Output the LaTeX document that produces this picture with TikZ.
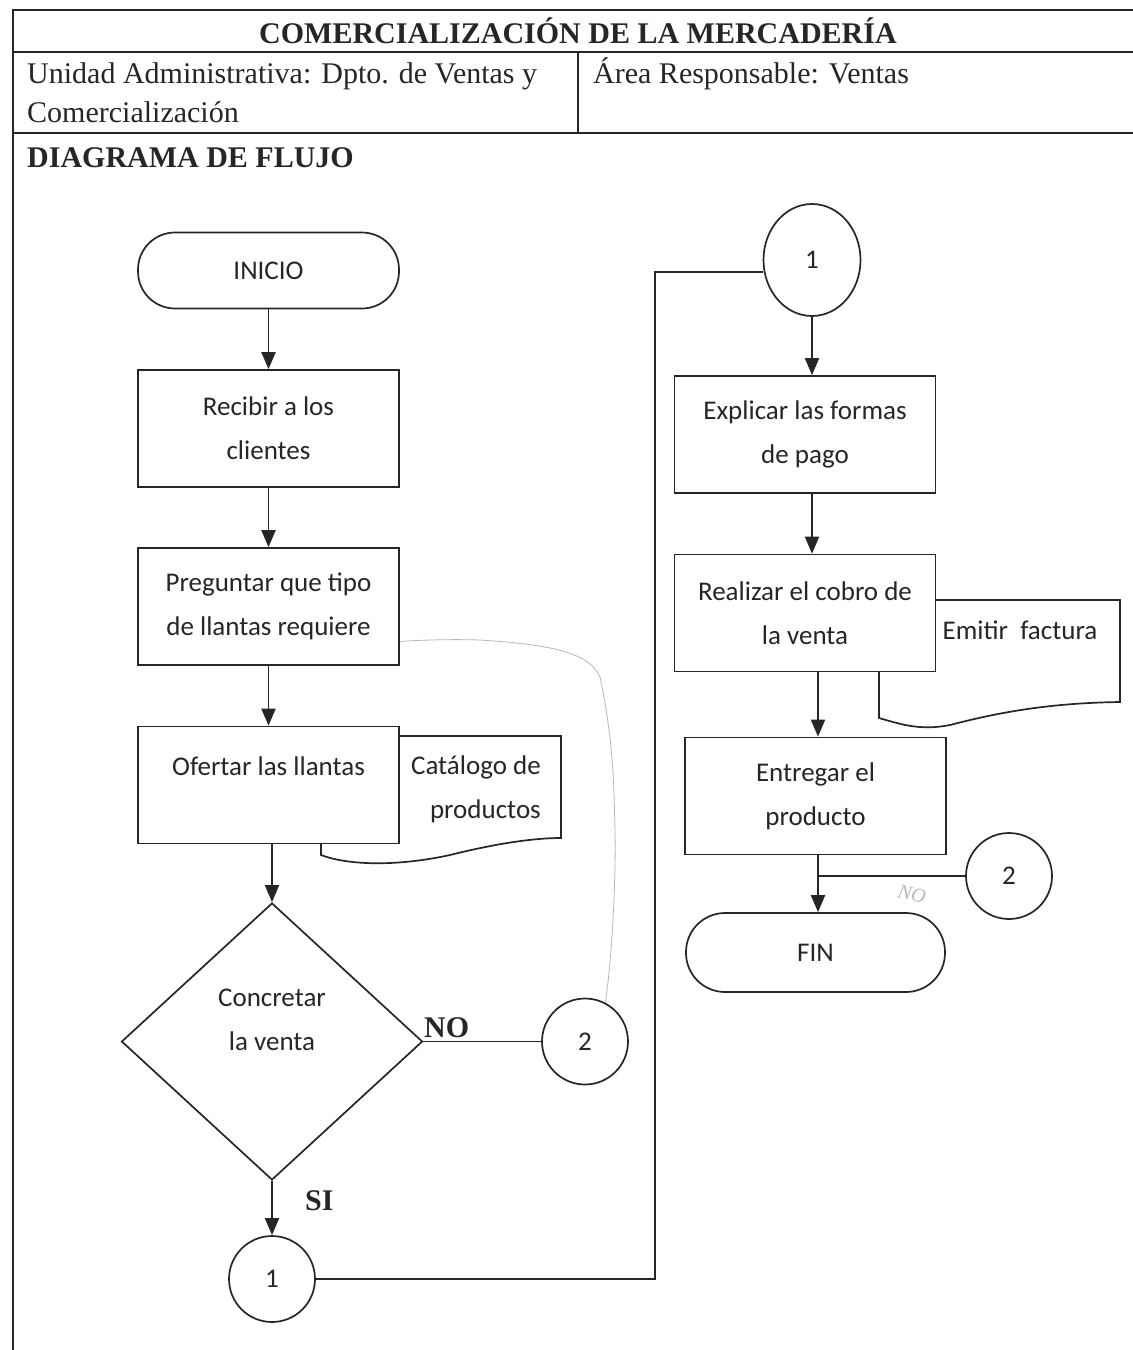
\documentclass[tikz,border=0pt]{standalone}
\usepackage{fontspec}
\setmainfont{Liberation Serif}
\newfontfamily\calib{Carlito}
\usetikzlibrary{shapes.geometric,arrows.meta}
\definecolor{ink}{HTML}{262626}
\definecolor{pencil}{HTML}{B8B8B8}
\begin{document}
\begin{tikzpicture}[x=1pt,y=-1pt,
  frame/.style={draw=ink,line width=2.8pt},
  thinframe/.style={draw=ink,line width=1.6pt},
  hdr/.style={font=\fontsize{30}{40}\selectfont,text=ink,inner sep=0pt,anchor=base west,align=left},
  hdrb/.style={font=\bfseries\fontsize{30}{40}\selectfont,text=ink,inner sep=0pt},
  fc/.style={font=\calib\fontsize{27}{44}\selectfont,text=ink},
  box/.style={fc,draw=ink,line width=1.7pt,fill=white,minimum width=261pt,minimum height=117pt,align=center,inner sep=0pt},
  term/.style={fc,draw=ink,line width=1.7pt,fill=white,minimum width=261pt,minimum height=76pt,rounded corners=37pt,inner sep=0pt},
  conn/.style={fc,draw=ink,line width=1.7pt,fill=white,circle,minimum size=86pt,inner sep=0pt},
  doc/.style={draw=ink,line width=1.7pt,fill=white},
  line/.style={draw=ink,line width=1.9pt},
  arr/.style={line,-{Triangle[width=14pt,length=17pt]}},
  lbl/.style={font=\bfseries\fontsize{30}{36}\selectfont,text=ink,inner sep=0pt},
]
\useasboundingbox[fill=white] (0,0) rectangle (1133,1350);

% ---- header frame ----
\draw[frame] (1133,10) -- (13,10) -- (13,1350);
\draw[frame] (13,52) -- (1133,52);
\draw[frame] (13,133) -- (1133,133);
\draw[thinframe] (578,52) -- (578,133);

\node[hdrb,anchor=base] (title) at (578,43) {COMERCIALIZACIÓN DE LA MERCADERÍA};
\node[hdr] (unidad) at (27,83) {Unidad Administrativa: Dpto. de Ventas y};
\node[hdr] (unidad2) at (27,122) {Comercialización};
\node[hdr] (area) at (593,83) {Área Responsable: Ventas};
\node[hdrb,anchor=base west] (diag) at (27,167) {DIAGRAMA DE FLUJO};

% ---- faint pencil annotation ----
\draw[pencil,line width=0.8pt] (605,1005) .. controls (612,960) and (616,880) .. (615,833)
  .. controls (614,780) and (613,740) .. (600,677)
  .. controls (590,655) and (560,645) .. (480,640)
  .. controls (420,638) and (340,644) .. (290,656);

% ---- document shapes (behind boxes) ----
\draw[doc] (321,736) -- (561,736) -- (561,838)
  .. controls (530,838) and (490,845) .. (450,855)
  .. controls (400,866) and (350,866) .. (321,855) -- cycle;
\draw[doc] (879,600) -- (1120,600) -- (1120,702)
  .. controls (1050,703) and (1000,712) .. (950,725)
  .. controls (920,731) and (900,724) .. (879,718) -- cycle;

% ---- left column ----
\node[term] (inicio) at (268.5,270.5) {INICIO};
\node[box] (recibir) at (268.5,428.5) {Recibir a los\\clientes};
\node[box] (preguntar) at (268.5,606.5) {Preguntar que tipo\\de llantas requiere};
\node[box] (ofertar) at (268.5,785) {Ofertar las llantas\\[-6pt]\mbox{}};
\node[fc,anchor=east,align=right,inner sep=0pt] (catalogo) at (541,789) {Catálogo de\\productos};
\node[fc,draw=ink,line width=1.7pt,fill=white,diamond,minimum width=301pt,minimum height=277pt,inner sep=0pt,align=center] (decision) at (272,1041.5) {Concretar\\la venta\\\mbox{}};
\node[conn] (c2a) at (585,1041.5) {2};
\node[conn] (c1a) at (272,1279) {1};

\draw[arr] (inicio) -- (recibir);
\draw[arr] (recibir) -- (preguntar);
\draw[arr] (preguntar) -- (ofertar);
\draw[arr] (ofertar.south -| decision.north) -- (decision.north);
\draw[line] (decision.east) -- (c2a.west);
\draw[arr] (decision.south) -- (c1a.north);
\node[lbl,anchor=base west] (no) at (424,1037) {NO};
\node[lbl,anchor=base west] (si) at (305,1210) {SI};

% ---- right column ----
\node[fc,draw=ink,line width=1.7pt,fill=white,ellipse,minimum width=97pt,minimum height=112pt,inner sep=0pt] (c1b) at (812,260) {1};
\node[box] (explicar) at (805,434.5) {Explicar las formas\\de pago};
\node[box] (realizar) at (805,613) {Realizar el cobro de\\la venta};
\node[fc,inner sep=0pt] (emitir) at (1020,630) {Emitir\ \ factura};
\node[box] (entregar) at (815.5,796) {Entregar el\\producto};
\node[term,minimum width=259pt,minimum height=79pt,rounded corners=39pt] (fin) at (815.5,952.5) {FIN};
\node[conn] (c2b) at (1009,876) {2};

\coordinate (t1) at (655,1279);
\coordinate (t2) at (655,272);
\draw[line] (c1a.east) -- (t1) -- (t2) -- (t2 -| c1b.west);
\draw[arr] (c1b.south) -- (c1b.south |- explicar.north);
\draw[arr] (explicar.south -| c1b.south) -- (realizar.north -| c1b.south);
\coordinate (r1) at (818,671);
\draw[arr] (realizar.south -| r1) -- (entregar.north -| r1);
\draw[arr] (entregar.south -| r1) -- (fin.north -| r1);
\coordinate (j1) at (818,876);
\draw[line] (c2b.west) -- (j1);

\node[pencil,font=\fontsize{20}{20}\selectfont\itshape,rotate=-12,inner sep=0pt] (hno) at (912,894) {NO};
\end{tikzpicture}
\end{document}
